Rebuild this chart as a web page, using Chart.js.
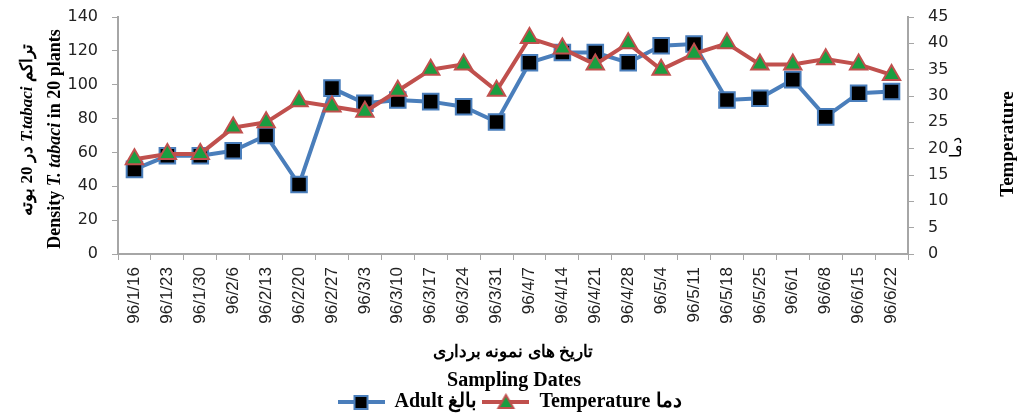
<!DOCTYPE html>
<html>
<head>
<meta charset="utf-8">
<script src="https://cdn.jsdelivr.net/npm/chart.js@4.4.0/dist/chart.umd.min.js"></script>
<style>
    body { margin: 0; background: #fff; }
    #thripsChart { display: block; }
</style>
</head>
<body>
<canvas id="thripsChart" width="1019" height="414"></canvas>
<script>
// sampling dates (Persian calendar) and the two series
const samplingDates = ["96/1/16", "96/1/23", "96/1/30", "96/2/6", "96/2/13", "96/2/20", "96/2/27", "96/3/3",
    "96/3/10", "96/3/17", "96/3/24", "96/3/31", "96/4/7", "96/4/14", "96/4/21", "96/4/28",
    "96/5/4", "96/5/11", "96/5/18", "96/5/25", "96/6/1", "96/6/8", "96/6/15", "96/6/22"];
const adultCounts = [50, 58, 58, 61, 70, 41, 98, 89, 91, 90, 87, 78, 113, 119, 119, 113, 123, 124, 91, 92, 103, 81, 95, 96];
const temperatures = [18, 19, 19, 24, 25, 29, 28, 27, 31, 35, 36, 31, 41, 39, 36, 40, 35, 38, 40, 36, 36, 37, 36, 34];
const densityTicks = [0, 20, 40, 60, 80, 100, 120, 140];
const temperatureTicks = [0, 5, 10, 15, 20, 25, 30, 35, 40, 45];

const serif = "'Liberation Serif', 'Times New Roman', serif";
const sans = "'DejaVu Sans', Verdana, sans-serif";
const axisGray = "#a6a6a6";
const blue = "#4a7ebb";
const red = "#c0504d";
const green = "#1a9e40";

// legend icon: short line with the marker in the middle
function makeLegendIcon(lineColor, marker) {
    const c = document.createElement("canvas");
    c.width = 47;
    c.height = 18;
    const g = c.getContext("2d");
    g.strokeStyle = lineColor;
    g.lineWidth = 4;
    g.beginPath();
    g.moveTo(0, 9);
    g.lineTo(47, 9);
    g.stroke();
    g.lineWidth = 2;
    if (marker === "rect") {
        g.fillStyle = "#000";
        g.fillRect(17, 3, 13, 13);
        g.strokeStyle = blue;
        g.strokeRect(17, 3, 13, 13);
    } else {
        g.fillStyle = green;
        g.strokeStyle = red;
        g.beginPath();
        g.moveTo(23.5, 2);
        g.lineTo(31, 15);
        g.lineTo(16, 15);
        g.closePath();
        g.fill();
        g.stroke();
    }
    return c;
}
const legendIcons = [makeLegendIcon(blue, "rect"), makeLegendIcon(red, "triangle")];

// draws a row of text pieces with different fonts, centred on (cx, cy)
function drawRuns(ctx, runs, cx, cy, angle) {
    ctx.save();
    ctx.translate(cx, cy);
    ctx.rotate(angle);
    ctx.textBaseline = "middle";
    ctx.textAlign = "left";
    ctx.fillStyle = "#000";
    let total = 0;
    runs.forEach(r => {
        ctx.font = r.font;
        ctx.direction = r.rtl ? "rtl" : "ltr";
        r.w = ctx.measureText(r.text).width;
        total += r.w;
    });
    let x = -total / 2;
    runs.forEach(r => {
        ctx.font = r.font;
        ctx.direction = r.rtl ? "rtl" : "ltr";
        ctx.fillText(r.text, x, 0);
        x += r.w;
    });
    ctx.restore();
}

const axisTitles = {
    id: "axisTitles",
    afterDraw(chart) {
        const ctx = chart.ctx;
        const up = -Math.PI / 2;
        // left axis, Persian line
        drawRuns(ctx, [
            { text: "در 20 بوته", font: "bold 17px " + serif, rtl: true },
            { text: " T.tabaci ", font: "italic bold 17px " + serif },
            { text: "تراکم", font: "bold 17px " + serif, rtl: true }
        ], 28, 130, up);
        // left axis, English line
        drawRuns(ctx, [
            { text: "Density ", font: "bold 18px " + serif },
            { text: "T. tabaci", font: "italic bold 18px " + serif },
            { text: " in 20 plants", font: "bold 18px " + serif }
        ], 55, 139, up);
        // right axis
        drawRuns(ctx, [{ text: "دما", font: "16px " + serif, rtl: true }], 957, 147, up);
        drawRuns(ctx, [{ text: "Temperature", font: "bold 19px " + serif }], 1008, 144, up);
        // x axis
        drawRuns(ctx, [{ text: "تاریخ های نمونه برداری", font: "bold 17px " + serif, rtl: true }], 513, 353, 0);
        drawRuns(ctx, [{ text: "Sampling Dates", font: "bold 20px " + serif }], 514, 381, 0);
    }
};

// fixed width for the value axes, and no extra room above/below for labels
function fixYScale(width) {
    return scale => {
        scale.width = width;
        scale.paddingTop = 0;
        scale.paddingBottom = 0;
    };
}

const ctx = document.getElementById("thripsChart").getContext("2d");

new Chart(ctx, {
    type: "line",
    data: {
        labels: samplingDates,
        datasets: [{
            label: "Adult بالغ",
            data: adultCounts,
            yAxisID: "y",
            order: 1,
            borderColor: blue,
            borderWidth: 4,
            tension: 0,
            pointStyle: "rect",
            pointRadius: 11,
            pointHoverRadius: 11,
            pointBackgroundColor: "#000",
            pointBorderColor: blue,
            pointBorderWidth: 2
        }, {
            label: "Temperature دما",
            data: temperatures,
            yAxisID: "y1",
            order: 0,
            borderColor: red,
            borderWidth: 4,
            tension: 0,
            pointStyle: "triangle",
            pointRadius: 10,
            pointHoverRadius: 10,
            pointBackgroundColor: green,
            pointBorderColor: red,
            pointBorderWidth: 2
        }]
    },
    options: {
        responsive: false,
        animation: false,
        devicePixelRatio: 1,
        layout: { padding: { top: 17, left: 0, right: 0, bottom: -8 } },
        plugins: {
            tooltip: { enabled: false },
            legend: {
                position: "bottom",
                labels: {
                    usePointStyle: true,
                    pointStyleWidth: 47,
                    boxHeight: 20,
                    padding: 5,
                    color: "#000",
                    font: { family: serif, size: 20, weight: "bold" },
                    sort: (a, b) => a.datasetIndex - b.datasetIndex,
                    generateLabels: chart => chart.data.datasets.map((ds, i) => ({
                        text: ds.label,
                        pointStyle: legendIcons[i],
                        datasetIndex: i,
                        fillStyle: ds.borderColor,
                        strokeStyle: ds.borderColor,
                        lineWidth: 0,
                        hidden: false,
                        fontColor: "#000"
                    }))
                }
            }
        },
        scales: {
            x: {
                offset: true,
                grid: { display: true, offset: true, drawOnChartArea: false, drawTicks: true, tickLength: 6, color: axisGray },
                border: { color: axisGray, width: 2 },
                ticks: {
                    autoSkip: false,
                    minRotation: 90,
                    maxRotation: 90,
                    padding: 7,
                    color: "#222",
                    font: { family: "'Liberation Sans', Arial, sans-serif", size: 17 }
                },
                afterFit: scale => { scale.height = 133; }
            },
            y: {
                position: "left",
                min: 0,
                max: 140,
                afterBuildTicks: scale => { scale.ticks = densityTicks.map(v => ({ value: v })); },
                grid: { display: true, drawOnChartArea: false, drawTicks: true, tickLength: 6, color: axisGray },
                border: { color: axisGray, width: 2 },
                ticks: { padding: 14, color: "#222", font: { family: sans, size: 16 } },
                afterFit: fixYScale(118)
            },
            y1: {
                position: "right",
                min: 0,
                max: 45,
                afterBuildTicks: scale => { scale.ticks = temperatureTicks.map(v => ({ value: v })); },
                grid: { display: true, drawOnChartArea: false, drawTicks: true, tickLength: 6, color: axisGray },
                border: { color: axisGray, width: 2 },
                ticks: { padding: 14, color: "#222", font: { family: sans, size: 16 } },
                afterFit: fixYScale(111)
            }
        }
    },
    plugins: [axisTitles]
});
</script>
</body>
</html>
